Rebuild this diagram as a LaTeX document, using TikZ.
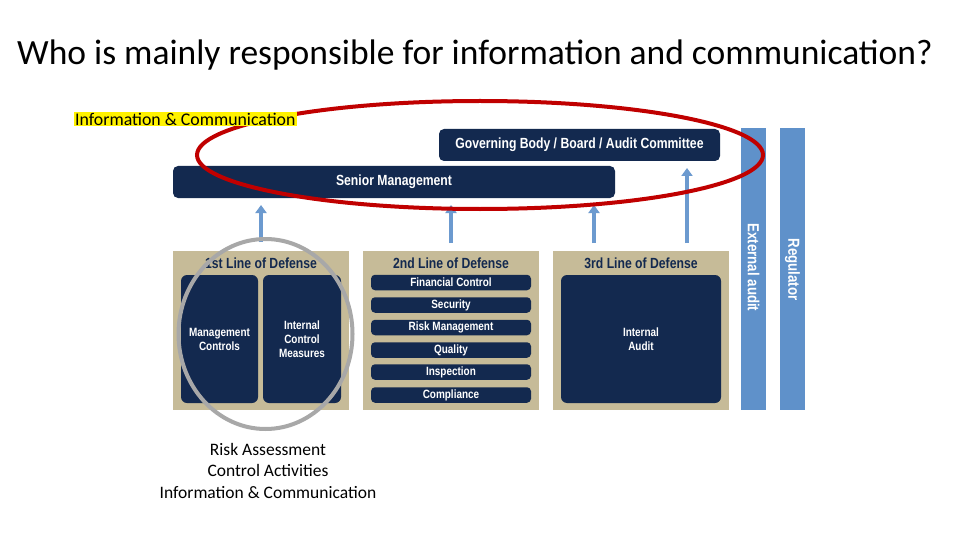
\documentclass[tikz,border=0pt]{standalone}
\usepackage{fontspec}
\setmainfont{Carlito}
\newfontfamily\condfont[FakeStretch=0.83]{Liberation Sans}
\usetikzlibrary{arrows.meta}
\definecolor{navy}{HTML}{13294F}
\definecolor{tan}{HTML}{C6BB98}
\definecolor{barblue}{HTML}{5F91CA}
\definecolor{arrblue}{HTML}{6C9ACF}
\definecolor{redline}{HTML}{C00000}
\definecolor{grayline}{HTML}{A8A8A8}
\tikzset{
  navybox/.style={fill=navy, rounded corners=5pt, text=white, font=\condfont\bfseries\fontsize{14.7}{16}\selectfont, inner sep=0pt},
  panel/.style={fill=tan, inner sep=0pt},
  pill/.style={fill=navy, rounded corners=4pt, text=white, font=\condfont\bfseries\fontsize{12}{13}\selectfont, inner sep=0pt, minimum width=160pt, minimum height=15.5pt},
  inner/.style={fill=navy, rounded corners=6pt, text=white, align=center, font=\condfont\bfseries\fontsize{12}{14}\selectfont, inner sep=0pt},
  paneltitle/.style={text=navy, font=\condfont\bfseries\fontsize{14.7}{16}\selectfont, inner sep=0pt},
  bar/.style={fill=barblue, inner sep=0pt, minimum width=25pt, minimum height=282pt},
  bartext/.style={text=white, font=\condfont\bfseries\fontsize{16}{17}\selectfont, rotate=-90, inner sep=0pt},
  uparrow/.style={draw=arrblue, line width=3.5pt, -{Triangle[width=11pt,length=8pt]}},
}
\begin{document}
\begin{tikzpicture}[x=1pt,y=-1pt]
\useasboundingbox[fill=white] (0,0) rectangle (960,540);

% title
\node[font=\fontsize{35.5}{38}\selectfont, text=black, inner sep=0pt] (title) at (475,55) {Who is mainly responsible for information and communication?};

% governing body and senior management
\node[navybox, minimum width=281pt, minimum height=32pt] (gov) at (579.5,145) {Governing Body / Board / Audit Committee};
\node[navybox, minimum width=442pt, minimum height=32pt] (sm) at (394,182) {Senior Management};

% panels
\node[panel, minimum width=176pt, minimum height=159pt] (p1) at (261,330.5) {};
\node[panel, minimum width=176pt, minimum height=159pt] (p2) at (451,330.5) {};
\node[panel, minimum width=176pt, minimum height=159pt] (p3) at (641,330.5) {};

\node[paneltitle] (t1) at (261,263.5) {1st Line of Defense};
\node[paneltitle] (t2) at (451,263.5) {2nd Line of Defense};
\node[paneltitle] (t3) at (641,263.5) {3rd Line of Defense};

% 1st line inner
\node[inner, minimum width=77pt, minimum height=128pt] (mc) at (219.5,339) {Management\\Controls};
\node[inner, minimum width=78pt, minimum height=128pt] (icm) at (302,339) {Internal\\Control\\Measures};

% 2nd line pills
\node[pill] (fc) at (451,282.5) {Financial Control};
\node[pill] (sec) at (451,305) {Security};
\node[pill] (rm) at (451,327.5) {Risk Management};
\node[pill] (qu) at (451,350) {Quality};
\node[pill] (ins) at (451,372) {Inspection};
\node[pill] (com) at (451,395) {Compliance};

% 3rd line inner
\node[inner, minimum width=160pt, minimum height=128pt] (ia) at (641,339) {Internal\\Audit};

% bars
\node[bar] (ext) at (753.5,269) {};
\node[bartext] (extt) at (753.5,267.5) {External audit};
\node[bar] (reg) at (792.5,269) {};
\node[bartext] (regt) at (792.5,269.5) {Regulator};

% arrows
\coordinate (a1s) at (261,242);
\coordinate (a2s) at (451,243);
\coordinate (a3s) at (594,243);
\coordinate (a4s) at (687,243);
\draw[uparrow] (a1s) -- (261,205);
\draw[uparrow] (a2s) -- (451,205);
\draw[uparrow] (a3s) -- (594,205);
\draw[uparrow] (a4s) -- (687,168);

% red ellipse
\draw[redline, line width=4pt] (480,155) ellipse [x radius=283, y radius=54];

% gray ellipse
\draw[grayline, line width=4pt] (265.5,334) ellipse [x radius=87, y radius=95];

% top label (on top of the red ellipse)
\node[fill=yellow, inner sep=1pt, font=\fontsize{17.8}{19}\selectfont, anchor=west] (toplbl) at (74,119) {Information \& Communication};

% bottom text
\node[align=center, font=\fontsize{17.5}{21.5}\selectfont, inner sep=0pt] (bottom) at (268,470.5) {Risk Assessment\\Control Activities\\Information \& Communication};
\end{tikzpicture}
\end{document}
